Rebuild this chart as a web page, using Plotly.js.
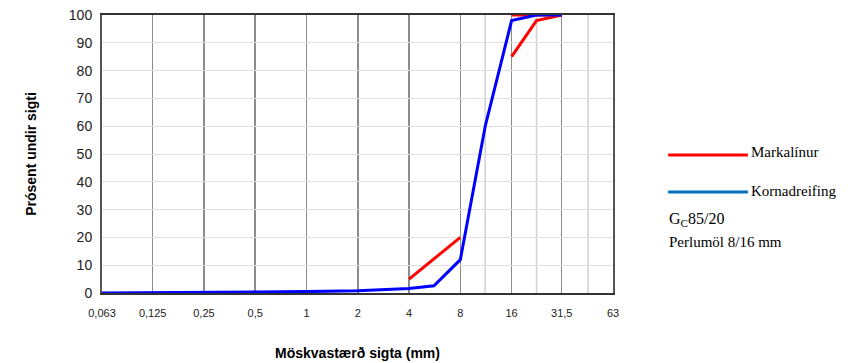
<!DOCTYPE html>
<html>
<head>
<meta charset="utf-8">
<script src="https://cdn.plot.ly/plotly-3.0.1.min.js"></script>
<style>html,body{margin:0;padding:0;background:#fff}#chart{width:854px;height:363px}</style>
</head>
<body>
<div id="chart"></div>
<script>
// Sieve sizes (mm) and tick labels
const tickValues = [0.063, 0.125, 0.25, 0.5, 1, 2, 4, 8, 16, 31.5, 63];
const tickLabels = ["0,063", "0,125", "0,25", "0,5", "1", "2", "4", "8", "16", "31,5", "63"];
const minorSieves = [11.2, 22.4, 45];

// Kornadreifing (grading curve)
const gradingSizes = [0.063, 0.125, 0.25, 0.5, 1, 2, 4, 5.6, 8, 11.2, 16, 22.4, 31.5];
const gradingPassing = [0, 0.1, 0.2, 0.3, 0.5, 0.8, 1.6, 2.6, 12, 60, 98, 100, 100];

// Markalínur (limit lines)
const lowerSizes = [4, 8, 11.2, 16, 22.4, 31.5];
const lowerPassing = [5, 20, null, 85, 98, 100];
const upperSizes = [16, 22.4, 31.5];
const upperPassing = [100, 100, 100];

const legendNames = ["Markalínur", "Kornadreifing"];
const infoLines = ["G<sub>C</sub>85/20", "Perlumöl 8/16 mm"];

const traces = [
  {x: lowerSizes, y: lowerPassing, mode: 'lines', line: {color: '#ff0000', width: 3}, connectgaps: false, showlegend: false, hoverinfo: 'skip'},
  {x: upperSizes, y: upperPassing, mode: 'lines', line: {color: '#ff0000', width: 3}, showlegend: false, hoverinfo: 'skip'},
  {x: gradingSizes, y: gradingPassing, mode: 'lines', line: {color: '#0000ff', width: 3}, showlegend: false, hoverinfo: 'skip'}
];

const shapes = minorSieves.map(v => ({
  type: 'line', xref: 'x', yref: 'paper', x0: v, x1: v, y0: 0, y1: 1,
  line: {color: '#d0d0d0', width: 1.5}, layer: 'below'
}));
// legend samples
shapes.push({type: 'line', xref: 'paper', yref: 'paper', x0: 1.108, x1: 1.264, y0: 0.496, y1: 0.496, line: {color: '#ff0000', width: 3}});
shapes.push({type: 'line', xref: 'paper', yref: 'paper', x0: 1.108, x1: 1.264, y0: 0.363, y1: 0.363, line: {color: '#0070c0', width: 3}});

const serifFamily = 'Liberation Serif, Times New Roman, serif';
const annotations = [
  {xref: 'paper', yref: 'paper', x: 1.266, y: 0.496, text: legendNames[0], showarrow: false, xanchor: 'left', yanchor: 'middle', yshift: 3, font: {family: serifFamily, size: 15, color: '#000'}},
  {xref: 'paper', yref: 'paper', x: 1.266, y: 0.363, text: legendNames[1], showarrow: false, xanchor: 'left', yanchor: 'middle', yshift: 1, font: {family: serifFamily, size: 15, color: '#000'}},
  {xref: 'paper', yref: 'paper', x: 1.106, y: 0.263, text: infoLines[0], showarrow: false, xanchor: 'left', yanchor: 'middle', font: {family: serifFamily, size: 16, color: '#000'}},
  {xref: 'paper', yref: 'paper', x: 1.106, y: 0.183, text: infoLines[1], showarrow: false, xanchor: 'left', yanchor: 'middle', font: {family: serifFamily, size: 15, color: '#000'}}
];

const layout = {
  width: 854, height: 363,
  margin: {l: 102, r: 241, t: 15, b: 70},
  paper_bgcolor: '#fff', plot_bgcolor: '#fff',
  showlegend: false,
  xaxis: {
    type: 'log', range: [Math.log10(0.063), Math.log10(63)],
    tickvals: tickValues, ticktext: tickLabels, ticks: '',
    ticklabelstandoff: 9,
    showgrid: true, gridcolor: '#8c8c8c', gridwidth: 1.5,
    showline: true, linecolor: '#333', linewidth: 2, mirror: true,
    zeroline: false,
    tickfont: {family: 'Liberation Sans, Arial, sans-serif', size: 11, color: '#222'},
    title: {text: '<b>Möskvastærð sigta (mm)</b>', font: {family: 'Liberation Sans, Arial, sans-serif', size: 14, color: '#000'}, standoff: 30}
  },
  yaxis: {
    range: [0, 100], dtick: 10, ticks: '',
    ticklabelstandoff: 5,
    showgrid: true, gridcolor: '#e0e0e0', gridwidth: 1,
    showline: true, linecolor: '#555', linewidth: 2, mirror: true,
    zeroline: false,
    tickfont: {family: 'Liberation Sans, Arial, sans-serif', size: 14, color: '#222'},
    title: {text: '<b>Prósent undir sigti</b>', font: {family: 'Liberation Sans, Arial, sans-serif', size: 14, color: '#000'}, standoff: 29}
  },
  shapes: shapes,
  annotations: annotations
};

Plotly.newPlot('chart', traces, layout, {staticPlot: true, displayModeBar: false});
</script>
</body>
</html>
